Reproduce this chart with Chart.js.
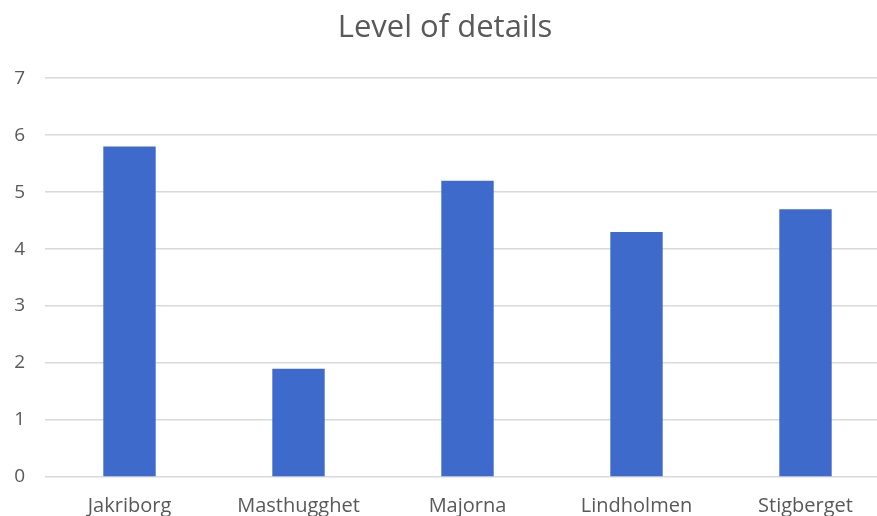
<!DOCTYPE html>
<html>
<head>
<meta charset="utf-8">
<script src="https://cdn.jsdelivr.net/npm/chart.js@4.4.0/dist/chart.umd.min.js"></script>
<style>
    html, body { margin: 0; padding: 0; background: #fff; overflow: hidden; }
    #wrap { width: 890px; height: 530px; position: relative; }
</style>
</head>
<body>
<div id="wrap"><canvas id="detailsChart"></canvas></div>
<script>
const areas = ['Jakriborg', 'Masthugghet', 'Majorna', 'Lindholmen', 'Stigberget'];
const detailLevel = [5.8, 1.9, 5.2, 4.3, 4.7];
const yTicks = [0, 1, 2, 3, 4, 5, 6, 7];

const textGrey = '#595959';
const fontFamily = '"Open Sans", sans-serif';

const ctx = document.getElementById('detailsChart');

let cfg = {
    type: 'bar',
    data: {
        labels: areas,
        datasets: [{
            label: 'Level of details',
            data: detailLevel,
            backgroundColor: '#3E6BCB',
            borderWidth: 0,
            categoryPercentage: 1,
            barPercentage: 0.31
        }]
    },
    options: {
        responsive: true,
        maintainAspectRatio: false,
        animation: false,
        layout: { padding: { left: 0, right: 0, top: 0, bottom: 0 } },
        plugins: {
            legend: { display: false },
            tooltip: { enabled: false },
            title: {
                display: true,
                text: 'Level of details',
                color: textGrey,
                font: { family: fontFamily, size: 31, weight: 'normal' },
                padding: { top: 10, bottom: 31 }
            }
        },
        scales: {
            x: {
                grid: { display: false, drawTicks: false },
                border: { display: false },
                ticks: {
                    color: textGrey,
                    font: { family: fontFamily, size: 20 },
                    padding: 17,
                    maxRotation: 0
                },
                afterFit: s => { s.height = 53; }
            },
            y: {
                min: 0,
                max: 7,
                afterBuildTicks: s => { s.ticks = yTicks.map(v => ({ value: v })); },
                grid: { color: '#D9D9D9', lineWidth: 1.5, drawTicks: false },
                border: { display: false },
                ticks: {
                    color: textGrey,
                    font: { family: fontFamily, size: 19 },
                    padding: 20
                },
                afterFit: s => { s.width = 45; }
            }
        }
    }
};

new Chart(ctx, cfg);
</script>
</body>
</html>
